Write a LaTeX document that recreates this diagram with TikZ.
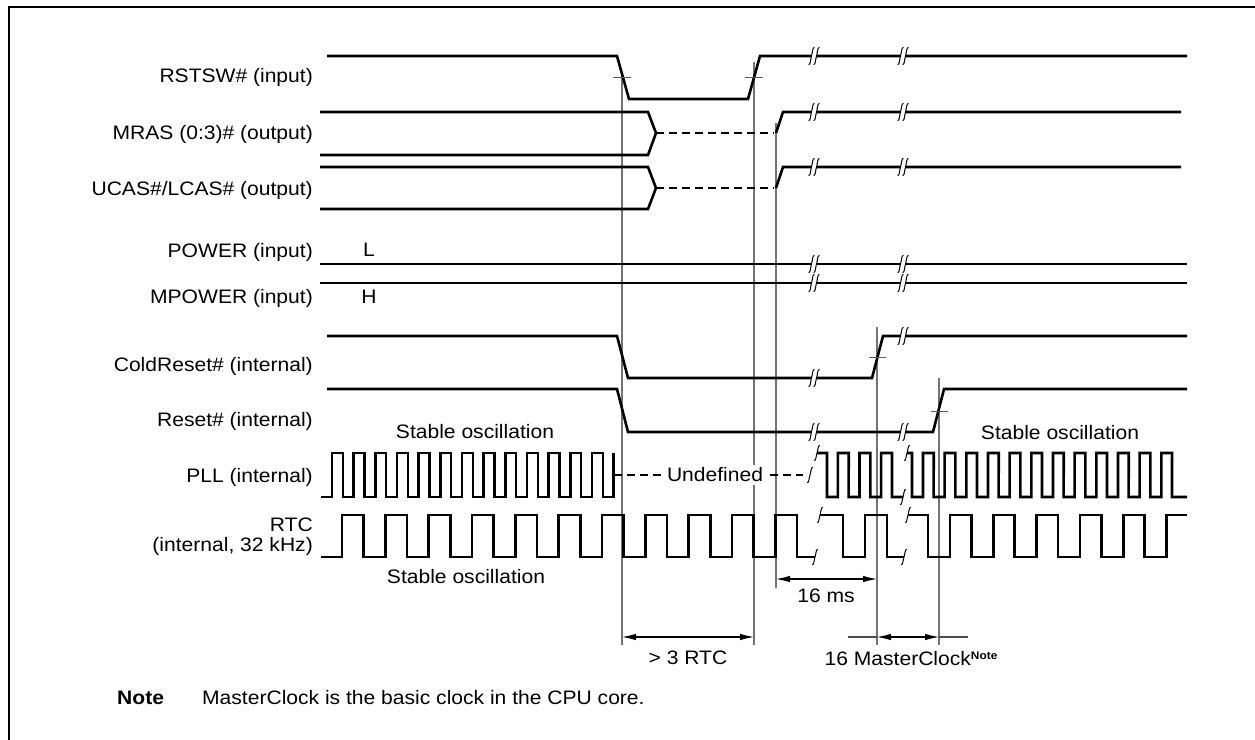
\documentclass[tikz,border=0pt]{standalone}
\usepackage{fontspec}
\setmainfont{Liberation Sans}[FakeStretch=1.08]
\usetikzlibrary{arrows.meta}
\begin{document}
\begin{tikzpicture}[x=1pt,y=-1pt,
  wave/.style={line width=2.6pt, line join=miter, line cap=butt},
  dashwave/.style={line width=2.6pt, dash pattern=on 8pt off 5pt},
  undefdash/.style={line width=2pt, dash pattern=on 8pt off 5pt},
  guide/.style={line width=1.3pt, draw=black!55},
  tickmark/.style={line width=1pt, draw=black!65},
  dimline/.style={line width=1.1pt, {Latex[length=14pt,width=6.5pt]}-{Latex[length=14pt,width=6.5pt]}},
  extline/.style={line width=1.1pt, draw=black!70},
  lbl/.style={anchor=east, inner sep=0pt, font=\fontsize{19.5}{20}\selectfont},
  txt/.style={inner sep=0pt, font=\fontsize{19.5}{20}\selectfont},
  squig/.pic={\draw[line width=1pt] (-3,7.5) .. controls (-1,8.5) and (-1,3) .. (0,0) .. controls (1,-3) and (1,-8.5) .. (3,-7.5);},
  brk/.pic={\fill[white] (-5.5,8.5) .. controls (-3.5,9.5) and (-3.5,3) .. (-2.5,0) .. controls (-1.5,-3) and (-1.5,-9.5) .. (0.5,-8.5)
               -- (5.5,-8.5) .. controls (3.5,-9.5) and (3.5,-3) .. (2.5,0) .. controls (1.5,3) and (1.5,9.5) .. (-0.5,8.5) -- cycle;
            \draw[line width=1pt] (-5.5,8.5) .. controls (-3.5,9.5) and (-3.5,3) .. (-2.5,0) .. controls (-1.5,-3) and (-1.5,-9.5) .. (0.5,-8.5);
            \draw[line width=1pt] (-0.5,8.5) .. controls (1.5,9.5) and (1.5,3) .. (2.5,0) .. controls (3.5,-3) and (3.5,-9.5) .. (5.5,-8.5);}
]
\useasboundingbox (0,0) rectangle (1255,739);
% frame
\draw[line width=2pt] (9,760) -- (9,7) -- (1270,7);

% guide coordinates
\coordinate (v1t) at (622,72);  \coordinate (v1b) at (622,645);
\coordinate (v2t) at (754,62);  \coordinate (v2b) at (754,645);
\coordinate (v3t) at (776,123); \coordinate (v3b) at (776,588);
\coordinate (v4t) at (877,327); \coordinate (v4b) at (877,645);
\coordinate (v5t) at (939,378); \coordinate (v5b) at (939,645);
\draw[guide] (v1t) -- (v1b);
\draw[guide] (v2t) -- (v2b);
\draw[guide] (v3t) -- (v3b);
\draw[guide] (v4t) -- (v4b);
\draw[guide] (v5t) -- (v5b);

% labels
\node[lbl] (lrstsw) at (313,77) {RSTSW\# (input)};
\node[lbl] (lmras) at (313,134) {MRAS (0:3)\# (output)};
\node[lbl] (lucas) at (313,190) {UCAS\#/LCAS\# (output)};
\node[lbl] (lpower) at (313,252) {POWER (input)};
\node[lbl] (lmpower) at (313,298) {MPOWER (input)};
\node[lbl] (lcold) at (313,366) {ColdReset\# (internal)};
\node[lbl] (lreset) at (313,421) {Reset\# (internal)};
\node[lbl] (lpll) at (313,477) {PLL (internal)};
\node[lbl, align=right] (lrtc) at (313,537) {RTC\\(internal, 32 kHz)};

% RSTSW
\draw[wave] (327,56) -- (617,56) -- (629,99) -- (748,99) -- (760,56) -- (1187,56);
\pic at (814,56) {brk}; \pic at (903,56) {brk};
\draw[tickmark] (613,77) -- (631,77);
\draw[tickmark] (745,77) -- (763,77);

% MRAS
\draw[wave] (320,112) -- (648,112) -- (656,133) -- (648,155) -- (320,155);
\draw[dashwave] (656,133) -- (774,133);
\draw[wave] (776,133) -- (783,112) -- (1181,112);
\pic at (814,112) {brk}; \pic at (903,112) {brk};

% UCAS
\draw[wave] (320,167) -- (648,167) -- (656,188) -- (648,209) -- (320,209);
\draw[dashwave] (656,188) -- (774,188);
\draw[wave] (776,188) -- (783,167) -- (1181,167);
\pic at (814,167) {brk}; \pic at (903,167) {brk};

% POWER / MPOWER
\draw[wave] (320,264) -- (1187,264);
\draw[wave] (320,283) -- (1187,283);
\pic at (814,264) {brk}; \pic at (903,264) {brk};
\pic at (814,283) {brk}; \pic at (903,283) {brk};
\node[txt] (lvl) at (369,250) {L};
\node[txt] (hvl) at (369,297) {H};

% ColdReset
\draw[wave] (327,336) -- (617,336) -- (628,378) -- (872,378) -- (883,336) -- (1187,336);
\pic at (814,378) {brk}; \pic at (903,336) {brk};
\draw[tickmark] (869,357) -- (886,357);

% Reset
\draw[wave] (327,389) -- (617,389) -- (628,432) -- (933,432) -- (944,389) -- (1187,389);
\pic at (814,432) {brk}; \pic at (903,432) {brk};
\draw[tickmark] (931,411) -- (948,411);

% PLL
\draw[wave] (321,497) \foreach \k in {0,...,12} {
   -- ({332+21.667*\k},497) -- ({332+21.667*\k},453) -- ({342.83+21.667*\k},453) -- ({342.83+21.667*\k},497)}
   -- (613.7,497) -- (613.7,453);
\draw[undefdash] (613.7,475) -- (803,475);
\node[txt, fill=white, inner xsep=2pt, inner ysep=3pt] (undef) at (715,475) {Undefined};
\pic at (810,475) {squig};
\draw[wave] (817,453) -- (827,453) \foreach \k in {0,...,2} {
   -- ({827+21.667*\k},497) -- ({837.8+21.667*\k},497) -- ({837.8+21.667*\k},453) -- ({848.7+21.667*\k},453)}
   -- (892,497) -- (903,497);
\pic at (817,453) {squig}; \pic at (903,497) {squig};
\draw[wave] (907,453) -- (912,453) \foreach \k in {0,...,11} {
   -- ({912+21.667*\k},497) -- ({923+21.667*\k},497) -- ({923+21.667*\k},453) -- ({933.7+21.667*\k},453)}
   -- (1172,497) -- (1187,497);
\pic at (907,453) {squig};

% RTC
\draw[wave] (321,557) \foreach \k in {0,...,10} {
   -- ({342+43.33*\k},557) -- ({342+43.33*\k},515) -- ({363.7+43.33*\k},515) -- ({363.7+43.33*\k},557)}
   -- (815,557);
\pic at (815,557) {squig};
\draw[wave] (820,515) -- (843,515) -- (843,557) -- (865,557) -- (865,515) -- (887,515) -- (887,557) -- (904,557);
\pic at (820,515) {squig}; \pic at (904,557) {squig};
\draw[wave] (908,515) \foreach \k in {0,...,5} {
   -- ({928+43.33*\k},515) -- ({928+43.33*\k},557) -- ({950+43.33*\k},557) -- ({950+43.33*\k},515)}
   -- (1187,515);
\pic at (908,515) {squig};

% oscillation labels
\node[txt] (so1) at (475,432) {Stable oscillation};
\node[txt] (so2) at (1060,433) {Stable oscillation};
\node[txt] (so3) at (466,577) {Stable oscillation};

% dimensions
\coordinate (a1l) at (622,637); \coordinate (a1r) at (754,637);
\draw[dimline] (a1l) -- (a1r);
\node[txt] (d1) at (688,658) {> 3 RTC};
\coordinate (a2l) at (776,579); \coordinate (a2r) at (877,579);
\draw[dimline] (a2l) -- (a2r);
\node[txt] (d2) at (826,596) {16 ms};
\coordinate (a3e1) at (848,637); \coordinate (a3l) at (877,637);
\coordinate (a3r) at (939,637); \coordinate (a3e2) at (968,637);
\draw[extline] (a3e1) -- (a3l);
\draw[extline] (a3r) -- (a3e2);
\draw[dimline] (a3l) -- (a3r);
\node[txt] (d3) at (911,659) {16 MasterClock\raisebox{6pt}{\fontsize{11}{11}\selectfont\bfseries Note}};

% note
\node[txt, anchor=west] (notek) at (117,698) {\bfseries Note};
\node[txt, anchor=west] (notet) at (202,698) {MasterClock is the basic clock in the CPU core.};
\end{tikzpicture}
\end{document}
